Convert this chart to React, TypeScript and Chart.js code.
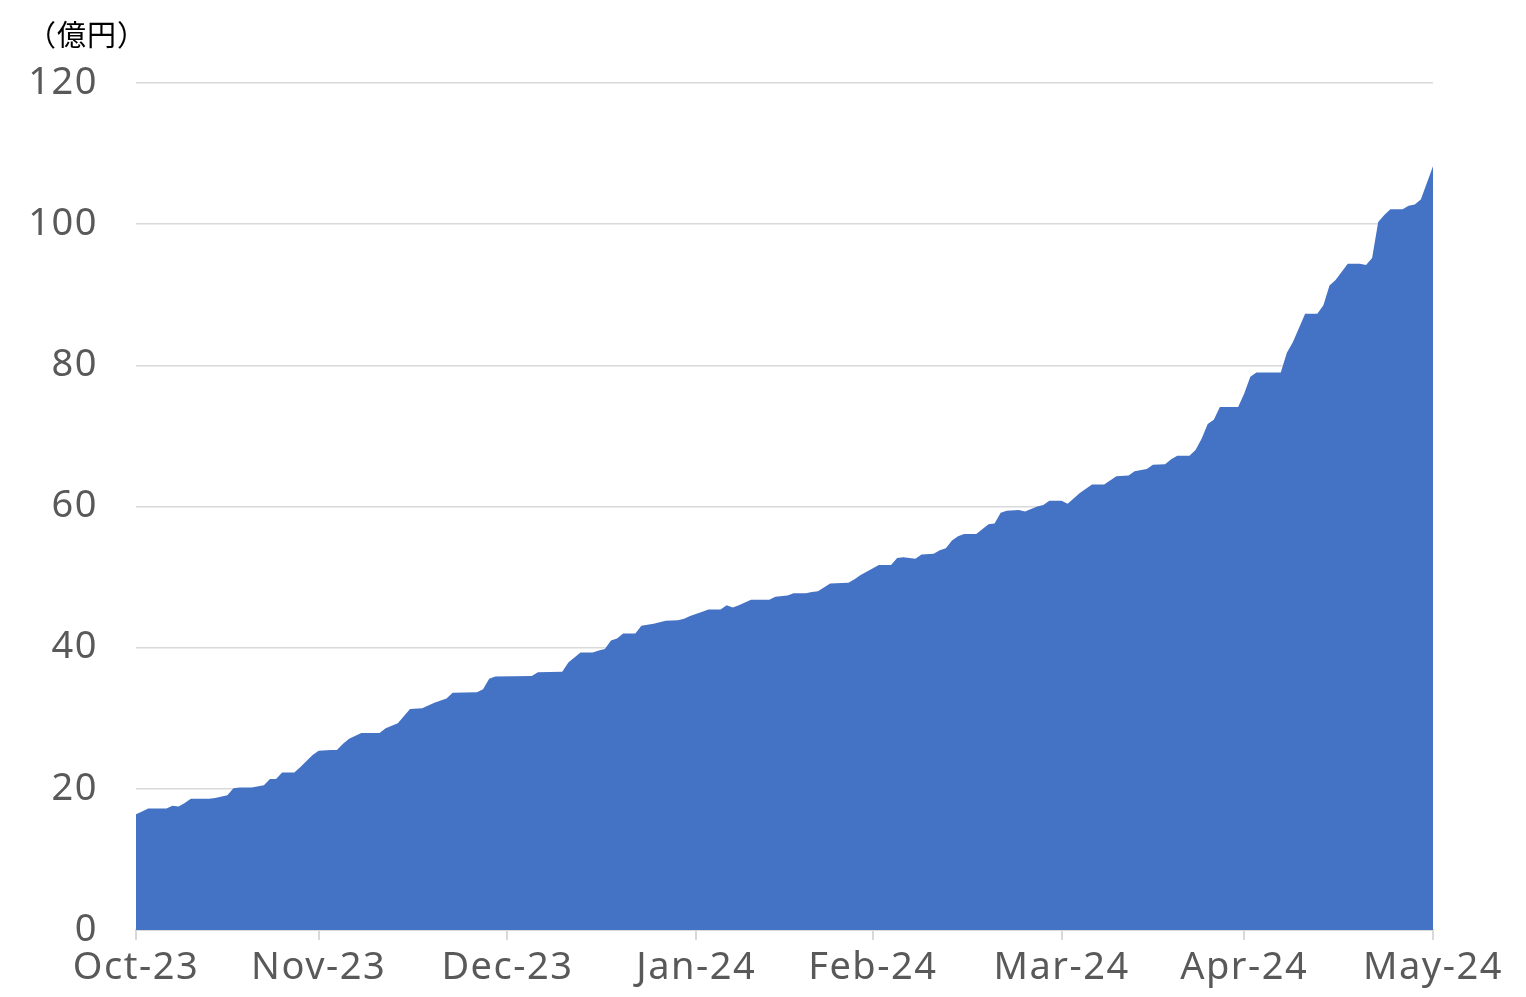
import React, { useEffect, useRef } from "react";
import { Chart, registerables } from "chart.js";

Chart.register(...registerables);

// Day index counted from the first axis tick (end of Oct-23)
const days: number[] = [
  0, 1, 2, 5, 6, 7, 8, 9, 12, 13, 15, 16, 17, 19, 21, 22, 23, 24, 26, 27, 29, 30, 32,
  33, 34, 35, 37, 40, 41, 43, 45, 47, 49, 51, 52, 56, 57, 58, 59,
  65, 66, 70, 71, 73, 75, 76, 77, 78, 79, 80, 82, 83, 85, 87, 89, 90, 91, 93,
  94, 96, 97, 98, 99, 101, 104, 105, 107, 108, 110, 111, 112, 114, 117, 118, 119, 122,
  124, 125, 126, 128, 129, 131, 132, 133, 134, 135, 136, 138, 140, 141, 142, 143, 145, 146, 148, 149, 150, 152, 153,
  155, 157, 159, 161, 163, 164, 166, 167, 169, 170, 171, 173, 174, 175, 176, 177, 178, 181,
  182, 183, 184, 188, 189, 190, 192, 194, 195, 196, 197, 199, 201, 202, 203, 204, 205, 206, 208, 209, 210, 211, 213,
];

// 億円
const values: number[] = [
  16.4, 16.8, 17.2, 17.2, 17.6, 17.5, 18.0, 18.6, 18.6, 18.7, 19.1, 20.1, 20.2, 20.2, 20.5, 21.4, 21.4, 22.3, 22.3, 23.1, 24.8, 25.4, 25.5,
  25.5, 26.4, 27.1, 27.9, 27.9, 28.6, 29.3, 31.3, 31.4, 32.2, 32.8, 33.6, 33.7, 34.1, 35.6, 35.9,
  36.0, 36.5, 36.6, 37.9, 39.3, 39.3, 39.6, 39.8, 41.0, 41.3, 42.0, 42.0, 43.1, 43.4, 43.8, 43.9, 44.1, 44.5, 45.1,
  45.4, 45.4, 46.0, 45.7, 46.0, 46.8, 46.8, 47.2, 47.4, 47.7, 47.7, 47.9, 48.0, 49.1, 49.2, 49.7, 50.3, 51.7,
  51.7, 52.7, 52.8, 52.6, 53.2, 53.3, 53.8, 54.1, 55.2, 55.8, 56.1, 56.1, 57.5, 57.6, 59.1, 59.4, 59.5, 59.3, 60.0, 60.2, 60.8, 60.8, 60.4,
  61.9, 63.1, 63.1, 64.3, 64.4, 65.0, 65.3, 65.9, 66.0, 66.7, 67.2, 67.2, 68.0, 69.6, 71.7, 72.3, 74.1, 74.1,
  76.0, 78.4, 79.0, 79.0, 81.8, 83.3, 87.3, 87.3, 88.5, 91.3, 92.1, 94.4, 94.4, 94.2, 95.2, 100.3, 101.3, 102.1, 102.1, 102.6, 102.8, 103.5, 108.2,
];

const tickDays: number[] = [0, 30, 61, 92, 121, 152, 182, 213];
const tickLabels: string[] = ["Oct-23", "Nov-23", "Dec-23", "Jan-24", "Feb-24", "Mar-24", "Apr-24", "May-24"];

const unitLabel = "（億円）";

const letterSpacingPlugin = {
  id: "letterSpacing",
  beforeDraw(chart: any) {
    (chart.ctx as any).letterSpacing = "1.5px";
  },
};

export default function App() {
  const ref = useRef<HTMLCanvasElement | null>(null);

  useEffect(() => {
    if (!ref.current) return;
    const grey = "#595959";
    const gridColor = "#d9d9d9";
    const font = { family: "'Noto Sans', 'Noto Sans CJK JP', sans-serif", size: 38 };
    const chart = new Chart(ref.current, {
      type: "line",
      plugins: [letterSpacingPlugin],
      data: {
        datasets: [
          {
            data: days.map((d, i) => ({ x: d, y: values[i] })),
            backgroundColor: "#4472C4",
            borderColor: "#4472C4",
            borderWidth: 0,
            pointRadius: 0,
            tension: 0,
            fill: "origin",
          },
        ],
      },
      options: {
        animation: false,
        responsive: false,
        maintainAspectRatio: false,
        layout: { padding: { top: 83, right: 93, bottom: 0, left: 0 } },
        plugins: { legend: { display: false }, tooltip: { enabled: false }, title: { display: false } },
        scales: {
          x: {
            type: "linear",
            min: 0,
            max: 213,
            afterBuildTicks: (scale: any) => {
              scale.ticks = tickDays.map((v) => ({ value: v }));
            },
            afterFit: (scale: any) => {
              scale.height = 67;
            },
            ticks: {
              autoSkip: false,
              maxRotation: 0,
              minRotation: 0,
              color: grey,
              font,
              padding: 5,
              callback: (v: any) => {
                const i = tickDays.indexOf(Number(v));
                return i >= 0 ? tickLabels[i] : "";
              },
            },
            grid: {
              drawOnChartArea: false,
              drawTicks: true,
              tickLength: 10,
              color: gridColor,
              lineWidth: 2,
            },
            border: { display: true, color: gridColor, width: 2 },
          },
          y: {
            min: 0,
            max: 120,
            afterFit: (scale: any) => {
              scale.width = 136;
            },
            ticks: { stepSize: 20, color: grey, font, padding: 38 },
            grid: { color: gridColor, lineWidth: 1.5, drawTicks: false },
            border: { display: false },
          },
        },
      },
    });
    return () => chart.destroy();
  }, []);

  return (
    <div style={{ position: "fixed", left: 0, top: 0, width: 1526, height: 997, background: "#fff" }}>
      <canvas ref={ref} width={1526} height={997} style={{ width: 1526, height: 997, display: "block" }} />
      <div
        style={{
          position: "absolute",
          left: 27,
          top: 16,
          fontFamily: "'Noto Sans CJK JP', sans-serif",
          fontSize: 29,
          lineHeight: "34px",
          letterSpacing: "1px",
          color: "#000",
        }}
      >
        {unitLabel}
      </div>
    </div>
  );
}
